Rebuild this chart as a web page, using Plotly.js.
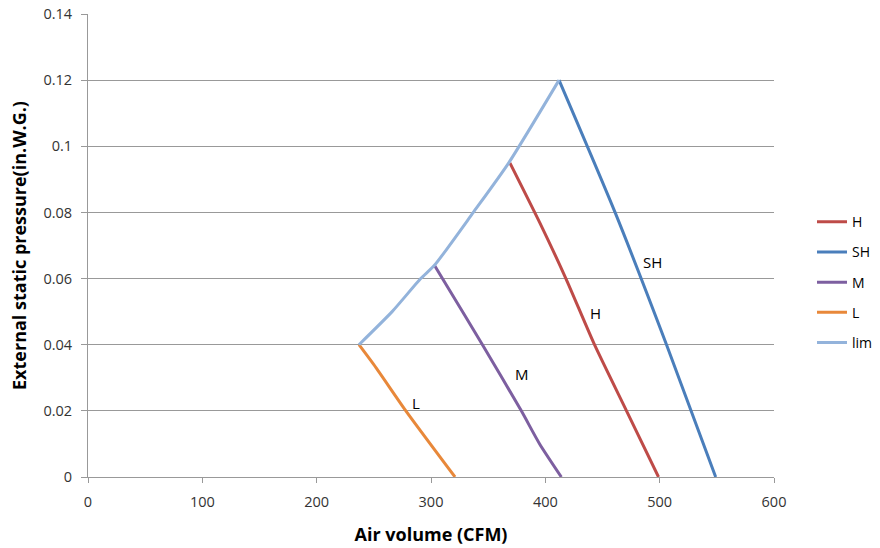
<!DOCTYPE html>
<html>
<head>
<meta charset="utf-8">
<script src="https://cdn.plot.ly/plotly-3.0.1.min.js"></script>
<style>html,body{margin:0;padding:0;background:#fff;}#chart{width:880px;height:548px;}</style>
</head>
<body>
<div id="chart"></div>
<script>
// Data
const seriesNames = ["H", "SH", "M", "L", "lim"];
const H_x = [369, 395, 418, 443, 471, 499];
const H_y = [0.095, 0.077, 0.060, 0.040, 0.020, 0];
const SH_x = [412, 461, 506, 549];
const SH_y = [0.120, 0.080, 0.040, 0];
const M_x = [303, 310, 345, 379, 395, 414];
const M_y = [0.064, 0.060, 0.040, 0.020, 0.010, 0];
const L_x = [237, 252, 278, 321];
const L_y = [0.040, 0.033, 0.020, 0];
const lim_x = [237, 266, 291, 303, 337, 368, 412];
const lim_y = [0.040, 0.050, 0.060, 0.064, 0.080, 0.095, 0.120];
const colors = ["#BE4B48", "#4A7EBB", "#7D5FA0", "#E8883A", "#93B3DB"];
const labelText = ["SH", "H", "M", "L"];
const labelX = [494, 444, 380, 287];
const labelY = [0.065, 0.0497, 0.0312, 0.0225];
const xTicks = [0, 100, 200, 300, 400, 500, 600];
const yTicks = [0, 0.02, 0.04, 0.06, 0.08, 0.1, 0.12, 0.14];

const xs = [H_x, SH_x, M_x, L_x, lim_x];
const ys = [H_y, SH_y, M_y, L_y, lim_y];
const font = "Open Sans, Liberation Sans, sans-serif";

const traces = seriesNames.map((n, i) => ({
  type: "scatter", mode: "lines", name: n, x: xs[i], y: ys[i],
  legendgroup: "g" + i,
  line: {color: colors[i], width: 3, shape: "spline", smoothing: 0.6}
}));

const annotations = labelText.map((t, i) => ({
  x: labelX[i], y: labelY[i], xref: "x", yref: "y", text: t, showarrow: false,
  font: {family: font, size: 15, color: "#000"}
}));

const layout = {
  width: 880, height: 548,
  margin: {l: 88, r: 106, t: 14, b: 71, autoexpand: false},
  paper_bgcolor: "#fff", plot_bgcolor: "#fff",
  showlegend: true,
  legend: {x: 1.0554, y: 0.585, xanchor: "left", yanchor: "top", font: {family: font, size: 14, color: "#000"}, tracegroupgap: 9, itemwidth: 30},
  xaxis: {
    range: [0, 600], tickvals: xTicks, ticktext: xTicks.map(String),
    showgrid: false, zeroline: false, showline: true, linecolor: "#999", linewidth: 1,
    ticks: "outside", ticklen: 5, tickcolor: "#999", ticklabelstandoff: 7,
    tickfont: {family: font, size: 14.5, color: "#333"},
    title: {text: "<b>Air volume (CFM)</b>", font: {family: font, size: 18, color: "#000"}, standoff: 17}
  },
  yaxis: {
    range: [0, 0.14], tickvals: yTicks, ticktext: yTicks.map(v => String(v)),
    showgrid: true, gridcolor: "#999", gridwidth: 1, zeroline: false,
    showline: true, linecolor: "#999", linewidth: 1,
    ticks: "outside", ticklen: 6, tickcolor: "#999", ticklabelstandoff: 6,
    tickfont: {family: font, size: 14.5, color: "#333"},
    title: {text: "<b>External static pressure(in.W.G.)</b>", font: {family: font, size: 18, color: "#000"}, standoff: 12}
  },
  annotations: annotations
};

Plotly.newPlot("chart", traces, layout, {displayModeBar: false, staticPlot: true});
</script>
</body>
</html>
